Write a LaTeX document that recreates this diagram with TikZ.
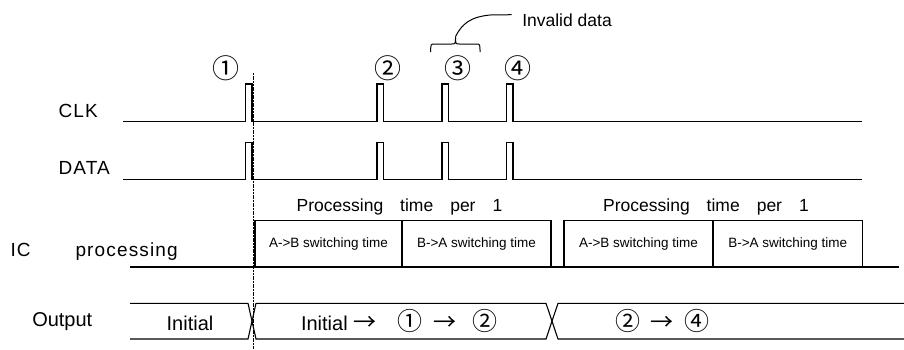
\documentclass[tikz,border=0pt]{standalone}
\usepackage{fontspec}
\setmainfont{Liberation Sans}
\newfontfamily\symf{Noto Sans CJK JP}
\newfontfamily\lblf[LetterSpace=6]{Liberation Sans}
\newcommand{\arr}{{\symf\fontsize{23}{25}\selectfont →}}
\newcommand{\cnum}[1]{{\symf\fontsize{25}{27}\selectfont #1}}
\begin{document}
\begin{tikzpicture}[x=1pt,y=-1pt,line width=1.1pt,
  lbl/.style={font=\lblf\fontsize{19}{21}\selectfont,anchor=base west,inner sep=0pt},
  num/.style={font=\symf\fontsize{27}{29}\selectfont,anchor=center,inner sep=0pt},
  ptime/.style={font=\fontsize{17.5}{19}\selectfont,anchor=base,inner sep=0pt},
  outtxt/.style={font=\fontsize{20}{22}\selectfont,anchor=base west,inner sep=0pt},
  swbox/.style={draw,minimum height=46.3pt,inner sep=0pt,font=\fontsize{13.5}{15}\selectfont},
  sig/.style={line width=1.1pt}]
\useasboundingbox (0,0) rectangle (904,349);

% row labels
\node[lbl] (clk) at (58,117.3) {CLK};
\node[lbl] (data) at (58,174) {DATA};
\node[lbl] (ic) at (10,256.7) {IC};
\node[lbl] (proc) at (75,256.7) {processing};
\node[outtxt] (out) at (31.7,326.7) {Output};

% circled numbers
\node[num] (n1) at (225.5,68) {①};
\node[num] (n2) at (388,68) {②};
\node[num] (n3) at (458,68) {③};
\node[num] (n4) at (517.5,68) {④};

% invalid data annotation
\node[font=\fontsize{17.5}{19}\selectfont,anchor=base west,inner sep=0pt] (inv) at (521.7,26) {Invalid data};
\coordinate (bl) at (430.7,52);
\coordinate (br) at (480,52);
\coordinate (tip) at (455.5,36.5);
\coordinate (ld) at (511.5,14.7);
\draw[line width=1pt] (bl) .. controls (430.7,44) .. (434.5,44) -- (451.5,44)
  .. controls (455.5,44) .. (tip) .. controls (455.5,44) .. (459.5,44) -- (476.2,44)
  .. controls (480,44) .. (br);
\draw[line width=1pt] (tip) .. controls (462,24) and (470,17) .. (490,15) -- (ld);

% CLK waveform
\draw[sig] (123,121.5) -- (245.5,121.5) |- (252,84) |- (377,121.5) |- (383.5,84)
  |- (442,121.5) |- (448.5,84) |- (506.5,121.5) |- (513,84) |- (862,121.5);
% DATA waveform
\draw[sig] (123,179.5) -- (245.5,179.5) |- (252,142.7) |- (377,179.5) |- (383.5,142.7)
  |- (442,179.5) |- (448.5,142.7) |- (506.5,179.5) |- (513,142.7) |- (862,179.5);

% dashed marker
\draw[dash pattern=on 2pt off 0.7pt,line width=1.5pt] (253.5,73) -- (253.5,349);

% IC processing
\node[ptime] (pt1) at (399.5,211) {Processing\hspace{17pt}time\hspace{17pt}per\hspace{17pt}1};
\node[ptime] (pt2) at (706,211) {Processing\hspace{17pt}time\hspace{17pt}per\hspace{17pt}1};
\node[swbox,minimum width=147pt] (b1) at (328.5,243.85) {A->B switching time};
\node[swbox,minimum width=149pt] (b2) at (476.5,243.85) {B->A switching time};
\node[swbox,minimum width=149pt] (b3) at (638.5,243.85) {A->B switching time};
\node[swbox,minimum width=149.5pt] (b4) at (787.75,243.85) {B->A switching time};
\draw[sig] (130,267) -- (899,267);

% Output bus
\draw[sig] (130,303.3) -- (248,303.3) -- (256,339) -- (546,339) -- (558,303.3) -- (904,303.3);
\draw[sig] (130,339) -- (248,339) -- (256,303.3) -- (546,303.3) -- (558,339) -- (904,339);
\node[outtxt,anchor=base] (o1) at (190,330) {Initial};
\node[outtxt] (o2) at (300.5,330) {Initial\hspace{5.5pt}\arr\hspace{21.5pt}\cnum{①}\hspace{11pt}\arr\hspace{16pt}\cnum{②}};
\node[outtxt] (o3) at (614.5,330) {\cnum{②}\hspace{10pt}\arr\hspace{11.8pt}\cnum{④}};
\end{tikzpicture}
\end{document}
